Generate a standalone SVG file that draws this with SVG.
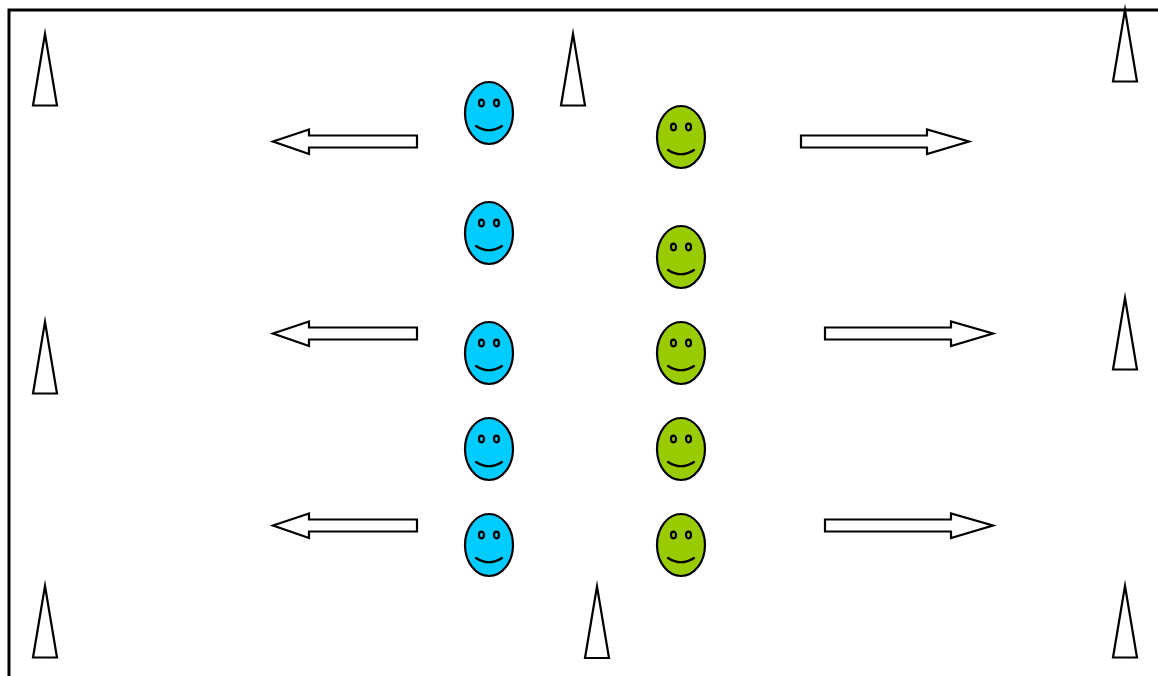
<svg xmlns="http://www.w3.org/2000/svg" xmlns:xlink="http://www.w3.org/1999/xlink" width="1158" height="676" viewBox="0 0 1158 676">
<style>
.o{fill:#fff;stroke:#000;stroke-width:2.200;stroke-miterlimit:10}
.b{fill:#00ccff;stroke:#000;stroke-width:2.200}
.g{fill:#99cc00;stroke:#000;stroke-width:2.200}
.e{fill:none;stroke:#000;stroke-width:2.200;stroke-linecap:round}
.w{fill:none;stroke:#000;stroke-width:3}
</style>
<defs>
<g id="face">
<ellipse class="e" cx="-7.500" cy="-10" rx="2.500" ry="3.300"/>
<ellipse class="e" cx="7.500" cy="-10" rx="2.500" ry="3.300"/>
<path class="e" d="M-13 13Q0 21.500 13 13"/>
</g>
<polygon id="cone" class="o" points="12,2 24,73.500 0,73.500"/>
<polygon id="al" class="o" points="0,12.500 36,0.500 36,6.500 144,6.500 144,18.500 36,18.500 36,25"/>
<polygon id="ar" class="o" points="0,6.500 126,6.500 126,0.500 168,12.500 126,25 126,18.500 0,18.500"/>
</defs>
<path id="frame" class="w" d="M9 676V10H1158"/>
<g id="cones">
<g id="cone1"><use href="#cone" x="33" y="32"/></g>
<g id="cone2"><use href="#cone" x="561" y="32"/></g>
<g id="cone3"><use href="#cone" x="1113" y="8"/></g>
<g id="cone4"><use href="#cone" x="33" y="320"/></g>
<g id="cone5"><use href="#cone" x="1113" y="296"/></g>
<g id="cone6"><use href="#cone" x="33" y="584"/></g>
<g id="cone7"><use href="#cone" x="585" y="584.500"/></g>
<g id="cone8"><use href="#cone" x="1113" y="584"/></g>
</g>
<g id="connectors">
<use href="#al" x="273" y="129"/>
<use href="#al" x="273" y="321"/>
<use href="#al" x="273" y="513"/>
<use href="#ar" x="801" y="129"/>
<use href="#ar" x="825" y="321"/>
<use href="#ar" x="825" y="513"/>
</g>
<g id="blue1"><ellipse class="b" cx="489" cy="113" rx="24" ry="31"/><use href="#face" x="489" y="113"/></g>
<g id="blue2"><ellipse class="b" cx="489" cy="233" rx="24" ry="31"/><use href="#face" x="489" y="233"/></g>
<g id="blue3"><ellipse class="b" cx="489" cy="353" rx="24" ry="31"/><use href="#face" x="489" y="353"/></g>
<g id="blue4"><ellipse class="b" cx="489" cy="449" rx="24" ry="31"/><use href="#face" x="489" y="449"/></g>
<g id="blue5"><ellipse class="b" cx="489" cy="545" rx="24" ry="31"/><use href="#face" x="489" y="545"/></g>
<g id="green1"><ellipse class="g" cx="681" cy="137" rx="24" ry="31"/><use href="#face" x="681" y="137"/></g>
<g id="green2"><ellipse class="g" cx="681" cy="257" rx="24" ry="31"/><use href="#face" x="681" y="257"/></g>
<g id="green3"><ellipse class="g" cx="681" cy="353" rx="24" ry="31"/><use href="#face" x="681" y="353"/></g>
<g id="green4"><ellipse class="g" cx="681" cy="449" rx="24" ry="31"/><use href="#face" x="681" y="449"/></g>
<g id="green5"><ellipse class="g" cx="681" cy="545" rx="24" ry="31"/><use href="#face" x="681" y="545"/></g>
</svg>
